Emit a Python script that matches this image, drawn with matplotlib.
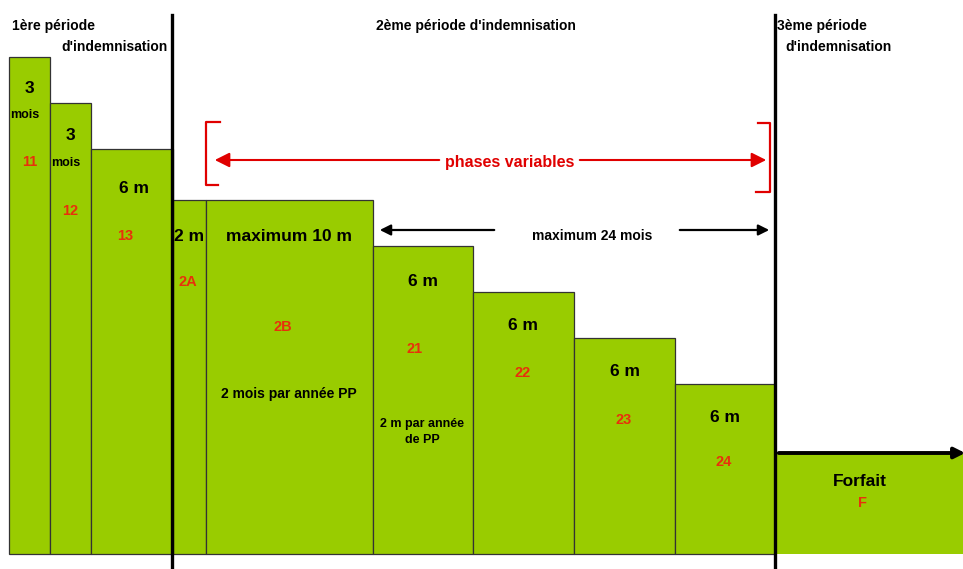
import matplotlib.pyplot as plt
from matplotlib import font_manager

# condensed bold look of the original (Arial Narrow-like)
names = {f.name for f in font_manager.fontManager.ttflist}
FONT = ['Liberation Sans Narrow', 'Liberation Sans', 'DejaVu Sans']
FONT = [f for f in FONT if f in names] or ['DejaVu Sans']
plt.rcParams['font.family'] = FONT
plt.rcParams['font.weight'] = 'bold'

GREEN = '#99cc00'
RED_TXT = '#e8300c'
RED = '#e00000'

# phases: code, left edge, width, level (height above the base line)
codes = ['11', '12', '13', '2A', '2B', '21', '22', '23', '24', 'F']
lefts = [9, 50, 91, 173, 206, 373, 473, 574, 675, 776]
widths = [41, 41, 82, 33, 167, 100, 101, 101, 100, 187]
levels = [497, 451, 405, 354, 354, 308, 262, 216, 170, 100]
durations = ['3', '3', '6 m', '2 m', 'maximum 10 m', '6 m', '6 m', '6 m', '6 m', 'Forfait']

fig = plt.figure(figsize=(9.63, 5.69), dpi=100)
ax = fig.add_axes([0, 0, 1, 1])
ax.set_xlim(0, 963)
ax.set_ylim(-15, 554)
ax.axis('off')

ax.bar(lefts[:-1], levels[:-1], width=widths[:-1], align='edge',
       color=GREEN, edgecolor='#333333', linewidth=0.9, zorder=2)
ax.bar(lefts[-1], levels[-1], width=widths[-1], align='edge',
       color=GREEN, edgecolor='none', zorder=2)

# labels inside the bars
dur_y = [466, 419, 366, 318, 318, 273, 228, 182, 136, 73]
code_y = [392, 343, 318, 272, 227, 205, 181, 134, 92, 51]
dur_dx = [0, 0, 2, 0, 0, 0, 0, 0, 0, -10]
code_dx = [0, 0, -7, -2, -7, -8, -1, -1, -1, -7]
for i, c in enumerate(codes):
    cx = lefts[i] + widths[i] / 2
    ax.text(cx + dur_dx[i], dur_y[i], durations[i], ha='center', va='center',
            fontsize=12.5, zorder=3)
    ax.text(cx + code_dx[i], code_y[i], c, ha='center', va='center',
            fontsize=10.5, color=RED_TXT, zorder=3)

ax.text(25, 439, 'mois', ha='center', va='center', fontsize=9, zorder=3)
ax.text(66, 391, 'mois', ha='center', va='center', fontsize=9, zorder=3)
ax.text(289, 160, '2 mois par année PP', ha='center', va='center', fontsize=10, zorder=3)
ax.text(422, 122, '2 m par année\nde PP', ha='center', va='center', fontsize=9,
        linespacing=1.55, zorder=3)

# period separators
for xv in [172, 775]:
    ax.plot([xv, xv], [539, -15], color='black', lw=2.4, zorder=4)

ax.text(12, 528, '1ère période', ha='left', va='center', fontsize=10)
ax.text(168, 507, "d'indemnisation", ha='right', va='center', fontsize=10)
ax.text(476, 528, "2ème période d'indemnisation", ha='center', va='center', fontsize=10)
ax.text(777, 528, '3ème période', ha='left', va='center', fontsize=10)
ax.text(785, 507, "d'indemnisation", ha='left', va='center', fontsize=10)

# phases variables bracket + arrow
ax.plot([220, 206, 206, 218], [432, 432, 369, 369], color=RED, lw=1.6, zorder=3)
ax.plot([758, 770, 770, 756], [431, 431, 362, 362], color=RED, lw=1.6, zorder=3)
ax.annotate('', xy=(212, 394), xytext=(442, 394),
            arrowprops=dict(arrowstyle='-|>', color=RED, lw=1.5, mutation_scale=22))
ax.annotate('', xy=(769, 394), xytext=(577, 394),
            arrowprops=dict(arrowstyle='-|>', color=RED, lw=1.5, mutation_scale=22))
ax.text(510, 392, 'phases variables', ha='center', va='center', fontsize=11.5, color=RED)

# maximum 24 mois arrows
ax.annotate('', xy=(377, 324), xytext=(497, 324),
            arrowprops=dict(arrowstyle='-|>', color='black', lw=1.6, mutation_scale=16))
ax.annotate('', xy=(772, 324), xytext=(677, 324),
            arrowprops=dict(arrowstyle='-|>', color='black', lw=1.6, mutation_scale=16))
ax.text(592, 318, 'maximum 24 mois', ha='center', va='center', fontsize=10)

# forfait arrow (head runs off the right edge, as in the original)
ax.annotate('', xy=(968, 101), xytext=(776, 101), annotation_clip=False,
            arrowprops=dict(arrowstyle='-|>', color='black', lw=2.8, mutation_scale=16),
            zorder=4)

fig.savefig('out.png', dpi=100)
